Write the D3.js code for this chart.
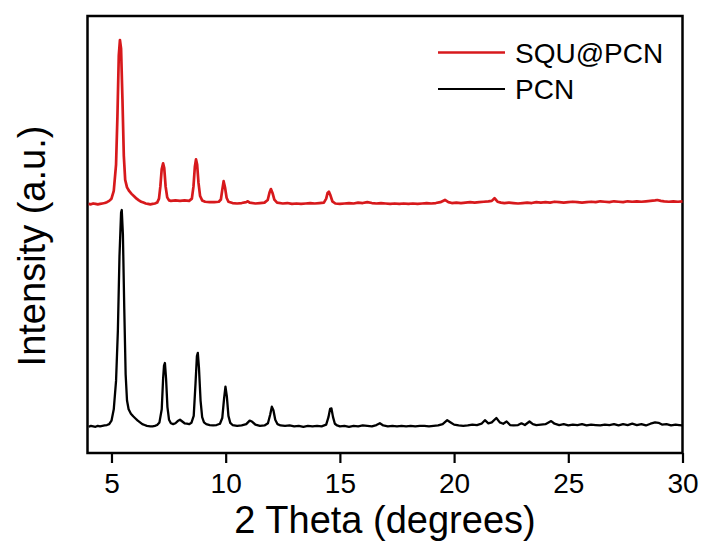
<!DOCTYPE html>
<html>
<head>
<meta charset="utf-8">
<script src="https://cdn.jsdelivr.net/npm/d3@7"></script>
<style>
  body { margin: 0; background: #fff; }
  text { font-family: "Liberation Sans", Arial, sans-serif; fill: #000; }
</style>
</head>
<body>
<div id="chart"></div>
<script>
"use strict";

// PCN pattern, [2 theta, counts]
const pcnPattern = [
  [4.0, 60], [4.1, 62], [4.2, 61], [4.3, 60], [4.4, 62], [4.5, 61], [4.6, 62], [4.7, 63], [4.8, 64], [4.9, 66],
  [5.0, 74], [5.1, 100], [5.2, 165], [5.28, 280], [5.35, 450], [5.42, 550], [5.45, 556], [5.5, 500], [5.56, 330],
  [5.62, 180], [5.68, 120], [5.75, 100], [5.85, 90], [5.95, 84], [6.05, 79], [6.15, 74], [6.25, 70], [6.35, 66],
  [6.45, 64], [6.55, 62], [6.7, 61], [6.8, 61], [6.9, 62], [7.0, 64], [7.1, 70], [7.2, 100], [7.26, 170],
  [7.3, 200], [7.34, 206], [7.39, 170], [7.45, 105], [7.52, 76], [7.6, 68], [7.7, 66], [7.8, 68], [7.9, 73], [8.0, 76],
  [8.1, 72], [8.2, 68], [8.3, 67], [8.4, 66], [8.5, 69], [8.6, 85], [8.68, 160], [8.74, 222], [8.78, 229], [8.83, 195],
  [8.9, 120], [8.97, 82], [9.05, 70], [9.15, 66], [9.3, 64], [9.45, 63], [9.6, 64], [9.75, 67], [9.85, 80], [9.93, 125],
  [9.99, 152], [10.05, 130], [10.12, 85], [10.2, 69], [10.3, 64], [10.5, 62], [10.7, 63], [10.9, 66], [11.05, 74],
  [11.15, 72], [11.3, 65], [11.5, 62], [11.7, 63], [11.85, 68], [11.95, 88], [12.02, 106], [12.09, 98], [12.17, 76],
  [12.27, 66], [12.4, 63], [12.6, 62], [12.8, 63], [13.0, 61], [13.2, 62], [13.4, 60], [13.6, 62], [13.8, 61],
  [14.0, 62], [14.2, 61], [14.4, 65], [14.5, 82], [14.57, 101], [14.63, 102], [14.7, 82], [14.78, 67], [14.88, 63],
  [15.0, 61], [15.2, 62], [15.4, 60], [15.6, 62], [15.8, 61], [16.0, 63], [16.2, 62], [16.4, 61], [16.6, 64],
  [16.75, 68], [16.9, 63], [17.1, 61], [17.3, 62], [17.5, 61], [17.7, 62], [17.9, 61], [18.1, 62], [18.3, 61],
  [18.5, 62], [18.7, 62], [18.9, 61], [19.1, 62], [19.3, 63], [19.5, 66], [19.7, 75], [19.85, 70], [20.0, 65],
  [20.2, 63], [20.4, 62], [20.6, 63], [20.8, 65], [21.0, 64], [21.2, 67], [21.35, 75], [21.5, 68], [21.65, 70],
  [21.85, 80], [22.0, 70], [22.15, 67], [22.3, 72], [22.45, 64], [22.6, 63], [22.8, 64], [22.95, 68], [23.1, 64],
  [23.3, 72], [23.45, 66], [23.6, 64], [23.8, 65], [24.0, 66], [24.25, 73], [24.4, 67], [24.6, 64], [24.8, 66],
  [25.0, 63], [25.2, 65], [25.4, 64], [25.6, 66], [25.8, 63], [26.0, 65], [26.2, 64], [26.4, 63], [26.6, 65],
  [26.8, 64], [27.0, 66], [27.2, 63], [27.4, 66], [27.6, 64], [27.8, 67], [28.0, 64], [28.2, 66], [28.4, 63],
  [28.6, 67], [28.8, 70], [28.95, 69], [29.1, 65], [29.3, 66], [29.5, 63], [29.7, 65], [29.85, 64], [30.0, 63]
];

// SQU@PCN pattern, [2 theta, counts] (plotted shifted up by squOffset)
const squPattern = [
  [4.0, 60], [4.1, 59], [4.2, 61], [4.3, 60], [4.4, 59], [4.5, 60], [4.6, 61], [4.7, 62], [4.8, 64], [4.9, 67],
  [5.0, 72], [5.1, 90], [5.2, 150], [5.26, 260], [5.32, 400], [5.37, 435], [5.42, 415], [5.48, 300], [5.54, 170],
  [5.6, 115], [5.68, 98], [5.78, 89], [5.88, 83], [6.0, 77], [6.1, 72], [6.2, 68], [6.3, 65], [6.4, 63],
  [6.5, 61], [6.6, 60], [6.7, 59], [6.8, 60], [6.9, 61], [7.0, 63], [7.08, 72], [7.14, 100], [7.2, 140], [7.26, 153],
  [7.31, 142], [7.37, 100], [7.44, 75], [7.52, 68], [7.6, 67], [7.8, 68], [8.0, 67], [8.2, 68], [8.4, 67], [8.52, 72],
  [8.59, 100], [8.65, 145], [8.7, 162], [8.75, 150], [8.81, 108], [8.88, 78], [8.97, 68], [9.1, 65], [9.3, 64],
  [9.5, 64], [9.7, 65], [9.79, 70], [9.85, 92], [9.91, 112], [9.97, 98], [10.04, 74], [10.12, 65], [10.3, 62],
  [10.5, 61], [10.7, 62], [10.9, 64], [10.97, 66], [11.05, 63], [11.3, 61], [11.5, 62], [11.7, 63], [11.84, 69],
  [11.92, 86], [11.98, 94], [12.05, 85], [12.13, 70], [12.25, 63], [12.5, 61], [12.7, 62], [12.9, 60], [13.1, 61],
  [13.3, 60], [13.5, 61], [13.7, 62], [13.9, 61], [14.1, 62], [14.3, 63], [14.4, 72], [14.46, 85], [14.52, 88],
  [14.59, 79], [14.67, 66], [14.8, 61], [15.0, 60], [15.2, 61], [15.4, 62], [15.6, 61], [15.8, 63], [16.0, 62],
  [16.2, 64], [16.4, 62], [16.6, 61], [16.8, 62], [17.0, 61], [17.2, 60], [17.4, 61], [17.6, 60], [17.8, 61],
  [18.0, 60], [18.2, 61], [18.4, 60], [18.6, 61], [18.8, 62], [19.0, 61], [19.2, 62], [19.4, 64], [19.6, 69],
  [19.75, 64], [19.9, 62], [20.1, 63], [20.3, 62], [20.5, 63], [20.7, 64], [20.9, 63], [21.1, 64], [21.3, 65],
  [21.5, 66], [21.65, 67], [21.77, 73], [21.9, 65], [22.05, 63], [22.2, 62], [22.4, 63], [22.6, 62], [22.8, 61],
  [23.0, 62], [23.2, 63], [23.4, 62], [23.6, 64], [23.8, 63], [24.0, 64], [24.2, 63], [24.4, 65], [24.6, 64],
  [24.8, 63], [25.0, 64], [25.2, 65], [25.4, 64], [25.6, 63], [25.8, 64], [26.0, 65], [26.2, 64], [26.4, 66],
  [26.6, 65], [26.8, 64], [27.0, 66], [27.2, 65], [27.4, 64], [27.6, 66], [27.8, 65], [28.0, 66], [28.2, 65],
  [28.4, 66], [28.6, 67], [28.8, 68], [28.9, 69], [29.05, 67], [29.2, 66], [29.4, 65], [29.6, 66], [29.8, 65],
  [30.0, 66]
];

const seriesNames = ["SQU@PCN", "PCN"];
const seriesColors = ["#d7191c", "#000000"];
const xTicks = [5, 10, 15, 20, 25, 30];
const squOffset = 510;

const msm = {
  width: 705,
  height: 545,
  left: 87.5,
  right: 682.5,
  top: 16,
  bottom: 453
};

let svgContainer = "";

window.onload = function () {
  svgContainer = d3.select("#chart")
    .append("svg")
    .attr("width", msm.width)
    .attr("height", msm.height);

  let map = drawAxes();
  plotData(map);
  makeLegend();
  makeLabels();
};

function drawAxes() {
  let xScale = d3.scaleLinear()
    .domain([3.95, 30])
    .range([msm.left, msm.right]);

  let yScale = d3.scaleLinear()
    .domain([0, 1000])
    .range([msm.bottom, msm.top]);

  let xAxis = d3.axisBottom(xScale)
    .tickValues(xTicks)
    .tickSizeInner(10)
    .tickSizeOuter(0)
    .tickPadding(10)
    .tickFormat(d3.format("d"));

  let g = svgContainer.append("g")
    .attr("transform", "translate(0," + msm.bottom + ")")
    .call(xAxis);
  g.select(".domain").remove();
  g.selectAll(".tick line").attr("stroke", "#000").attr("stroke-width", 2.2);
  g.selectAll(".tick text")
    .attr("font-size", "28px")
    .attr("font-family", "Liberation Sans, Arial, sans-serif")
    .attr("fill", "#000");

  // box round the plot
  svgContainer.append("rect")
    .attr("x", msm.left)
    .attr("y", msm.top)
    .attr("width", msm.right - msm.left)
    .attr("height", msm.bottom - msm.top)
    .attr("fill", "none")
    .attr("stroke", "#000")
    .attr("stroke-width", 2.5);

  return { xScale: xScale, yScale: yScale };
}

function plotData(map) {
  let pcnLine = d3.line()
    .x(d => map.xScale(d[0]))
    .y(d => map.yScale(d[1]));

  let squLine = d3.line()
    .x(d => map.xScale(d[0]))
    .y(d => map.yScale(d[1] + squOffset));

  svgContainer.append("path")
    .datum(pcnPattern)
    .attr("d", pcnLine)
    .attr("fill", "none")
    .attr("stroke", seriesColors[1])
    .attr("stroke-width", 2.3)
    .attr("stroke-linejoin", "round");

  svgContainer.append("path")
    .datum(squPattern)
    .attr("d", squLine)
    .attr("fill", "none")
    .attr("stroke", seriesColors[0])
    .attr("stroke-width", 2.7)
    .attr("stroke-linejoin", "round");
}

function makeLegend() {
  let rows = svgContainer.selectAll(".legendRow")
    .data(seriesNames)
    .enter()
    .append("g")
    .attr("class", "legendRow")
    .attr("transform", (d, i) => "translate(438," + (52.5 + i * 36.5) + ")");

  rows.append("line")
    .attr("x1", 0)
    .attr("x2", 67)
    .attr("stroke", (d, i) => seriesColors[i])
    .attr("stroke-width", (d, i) => i == 0 ? 2.6 : 2.2);

  rows.append("text")
    .attr("x", 77)
    .attr("y", 10)
    .attr("font-size", "28px")
    .text(d => d);
}

function makeLabels() {
  svgContainer.append("text")
    .attr("x", (msm.left + msm.right) / 2)
    .attr("y", 533)
    .attr("text-anchor", "middle")
    .attr("font-size", "38px")
    .text("2 Theta (degrees)");

  svgContainer.append("text")
    .attr("transform", "translate(45,246) rotate(-90)")
    .attr("text-anchor", "middle")
    .attr("font-size", "38px")
    .text("Intensity (a.u.)");
}
</script>
</body>
</html>
